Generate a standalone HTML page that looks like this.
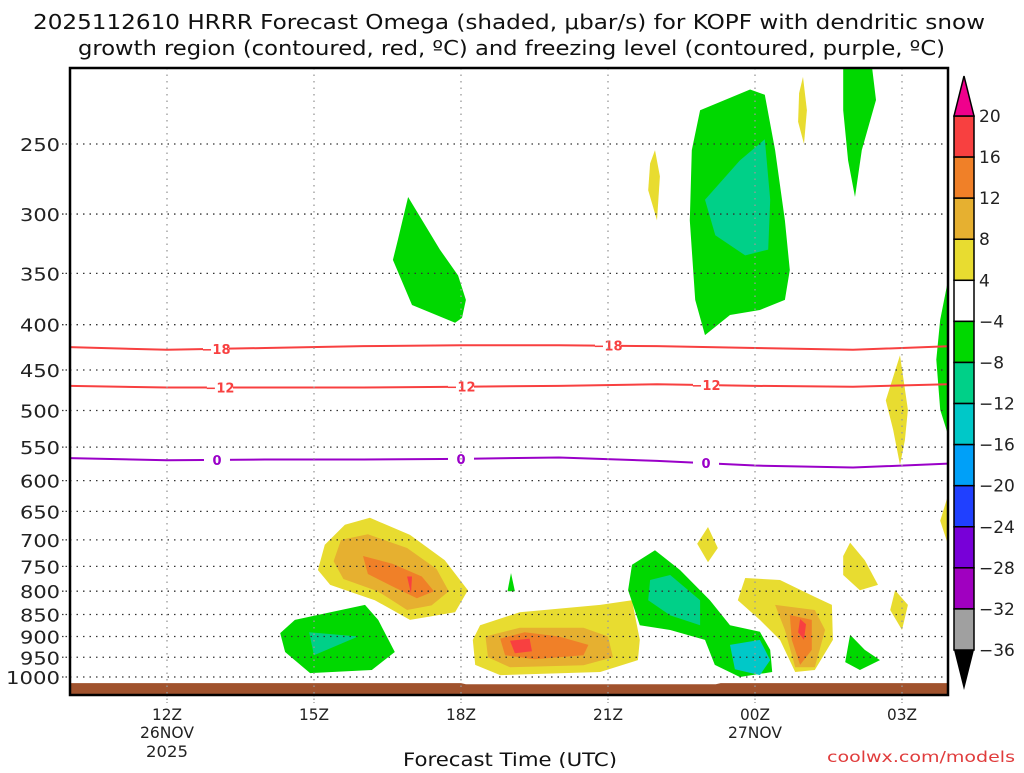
<!DOCTYPE html>
<html><head><meta charset="utf-8"><style>
body{margin:0;background:#fff;width:1024px;height:768px;overflow:hidden}
svg text{font-family:"DejaVu Sans","Liberation Sans",sans-serif}
</style></head><body>
<svg id="c" width="1024" height="768" xmlns="http://www.w3.org/2000/svg">
<text x="33" y="29" textLength="952" lengthAdjust="spacingAndGlyphs" font-size="20" fill="#111">2025112610 HRRR Forecast Omega (shaded, μbar/s) for KOPF with dendritic snow</text>
<text x="78" y="55" textLength="867" lengthAdjust="spacingAndGlyphs" font-size="20" fill="#111">growth region (contoured, red, ºC) and freezing level (contoured, purple, ºC)</text>
<text x="403" y="766" textLength="214" lengthAdjust="spacingAndGlyphs" font-size="19" fill="#111">Forecast Time (UTC)</text>
<text x="827" y="762" textLength="188" lengthAdjust="spacingAndGlyphs" font-size="15" fill="#e03c3c">coolwx.com/models</text>
<g id="plot"></g>
<g id="cbar"></g>
</svg>
<script>
const pLevels=[250,300,350,400,450,500,550,600,650,700,750,800,850,900,950,1000];
const timeTicks=[12,15,18,21,24,27];
const timeLabels=["12Z","15Z","18Z","21Z","00Z","03Z"];
const lineHours=[10,12,14,16,18,20,22,24,26,28];
const dgzMinus18=[424,427,425,423,422,422,423,425,427,423];
const dgzMinus12=[469,471,471,471,470,469,467,469,470,467];
const freezing0=[566,569,568,568,567,565,570,577,580,574];
const labMinus18=[13.0,21.0];
const labMinus12=[13.08,18.0,23.0];
const lab0=[13.02,18.0,23.0];
const cbLevels=["20","16","12","8","4","−4","−8","−12","−16","−20","−24","−28","−32","−36"];
const cbColors=["#f84040","#f08028","#e6b030","#e8dc30","#ffffff","#00d800","#00d088","#00c8c8","#00a0f8","#2040ff","#7800d8","#a000c0","#a0a0a0"];
const shades=[
["#00d800",[[16.92,287],[17.57,329],[17.94,352],[18.1,375],[18.02,393],[17.88,398],[17.0,380],[16.61,338],[16.71,321]]],
["#00d800",[[22.88,229],[23.9,217],[24.2,220],[24.41,254],[24.61,305],[24.71,347],[24.61,375],[24.1,385],[23.49,390],[22.98,411],[22.78,375],[22.67,305],[22.71,254]]],
["#00d088",[[22.98,289],[23.69,261],[24.2,247],[24.31,289],[24.27,329],[23.8,334],[23.19,317]]],
["#00d800",[[25.8,205],[26.39,205],[26.47,223],[26.18,254],[26.04,287],[25.9,261],[25.8,229]]],
["#e8dc30",[[21.96,254],[22.06,272],[22.0,305],[21.82,282],[21.86,263]]],
["#e8dc30",[[24.98,210],[25.06,229],[25.0,250],[24.88,236],[24.9,219]]],
["#00d800",[[27.94,356],[27.94,533],[27.78,499],[27.7,438],[27.78,395]]],
["#e8dc30",[[26.96,433],[27.12,499],[27.06,540],[26.96,576],[26.82,526],[26.67,487]]],
["#e8dc30",[[27.94,623],[27.94,709],[27.78,666]]],
["#e8dc30",[[15.63,673],[16.14,661],[16.96,691],[17.67,738],[18.14,798],[17.88,845],[16.96,862],[16.24,819],[15.33,787],[15.08,757],[15.22,709]]],
["#e6b030",[[15.55,700],[16.1,690],[16.9,715],[17.5,755],[17.75,800],[17.4,830],[16.9,840],[16.3,800],[15.6,775],[15.4,740]]],
["#f08028",[[16.0,730],[16.6,745],[17.2,770],[17.45,800],[17.1,815],[16.6,790],[16.1,765]]],
["#f84040",[[16.9,770],[17.0,770],[16.98,805]]],
["#e8dc30",[[18.39,874],[19.2,845],[20.84,829],[21.49,819],[21.65,908],[21.61,957],[20.84,987],[18.8,995],[18.29,969],[18.24,908]]],
["#e6b030",[[18.5,900],[19.2,880],[20.5,880],[21.0,900],[21.1,950],[20.5,970],[19.0,975],[18.55,950]]],
["#f08028",[[18.8,905],[19.3,890],[20.0,900],[20.6,920],[20.5,945],[19.5,955],[18.9,945]]],
["#f84040",[[19.0,910],[19.4,905],[19.45,935],[19.1,940]]],
["#00d800",[[14.31,892],[14.61,862],[16.04,829],[16.31,862],[16.65,937],[16.18,982],[14.92,990],[14.41,937]]],
["#00d088",[[14.9,890],[15.9,900],[15.0,945]]],
["#00d800",[[19.02,763],[19.1,800],[18.95,800]]],
["#00d800",[[21.96,719],[22.47,757],[23.08,819],[23.49,874],[24.1,889],[24.31,932],[24.35,987],[23.69,1000],[23.18,969],[22.98,908],[22.27,885],[21.65,874],[21.41,798],[21.49,747]]],
["#00d088",[[21.86,777],[22.27,767],[22.88,819],[22.88,874],[22.27,852],[21.82,819]]],
["#00c8c8",[[23.49,920],[24.1,908],[24.31,957],[24.1,995],[23.59,980]]],
["#e8dc30",[[23.04,677],[23.24,715],[23.04,742],[22.82,707]]],
["#e8dc30",[[23.8,773],[24.51,777],[25.22,812],[25.57,829],[25.59,908],[25.22,982],[24.82,987],[24.51,908],[24.1,862],[23.65,819]]],
["#e6b030",[[24.41,829],[25.22,840],[25.43,885],[25.22,975],[24.82,975],[24.61,885]]],
["#f08028",[[24.71,851],[25.16,862],[25.16,932],[24.92,969],[24.75,908]]],
["#f84040",[[24.92,860],[25.04,872],[25.0,908],[24.88,890]]],
["#e8dc30",[[25.94,705],[26.24,738],[26.51,787],[26.14,798],[25.8,767],[25.8,730]]],
["#e8dc30",[[26.86,798],[27.12,829],[27.0,885],[26.76,840]]],
["#00d800",[[25.94,896],[26.24,932],[26.55,957],[26.14,982],[25.84,962]]]
];
const terrainHours=[10,18,18.1,23.2,23.3,28];
const terrainP=[1016,1016,1019,1019,1016,1016];

const NS="http://www.w3.org/2000/svg";
const L=70,R=948,T=68,B=695;
const xs=h=>167+(h-12)*49;
const ys=p=>677-384.5*Math.log(1000/p);
function mk(tag,attrs,parent){const e=document.createElementNS(NS,tag);for(const k in attrs)e.setAttribute(k,attrs[k]);parent.appendChild(e);return e;}
const plot=document.getElementById('plot');
const cp=mk('clipPath',{id:'clp'},plot);mk('rect',{x:L,y:T,width:R-L,height:B-T},cp);
const inner=mk('g',{'clip-path':'url(#clp)'},plot);
shades.forEach((s,i)=>{
 const e=mk('polygon',{points:s[1].map(q=>xs(q[0]).toFixed(1)+','+ys(q[1]).toFixed(1)).join(' '),fill:s[0]},inner);
 
 
});
pLevels.forEach(p=>{
 const g=mk('line',{x1:L,x2:R,y1:ys(p),y2:ys(p),stroke:'#333','stroke-width':1.3,'stroke-dasharray':'1.5 5'},plot);
 
 
 const s=String(p);
 const t=mk('text',{x:62-s.length*14,y:ys(p)+7,'font-size':18,fill:'#222',textLength:s.length*14-2,lengthAdjust:'spacingAndGlyphs'},plot);t.textContent=s;
 
 
 mk('line',{x1:L-8,x2:L,y1:ys(p),y2:ys(p),stroke:'#333','stroke-width':1.3,'stroke-dasharray':'1.5 2'},plot);
});
timeTicks.forEach((h,i)=>{
 const g=mk('line',{x1:xs(h),x2:xs(h),y1:T,y2:B,stroke:'#999','stroke-width':1.3,'stroke-dasharray':'1.5 5'},plot);
 
 
 mk('line',{x1:xs(h),x2:xs(h),y1:B,y2:B+8,stroke:'#999','stroke-width':1.3,'stroke-dasharray':'1.5 2'},plot);
 const t=mk('text',{x:xs(h)-15,y:720,'font-size':16,fill:'#222',textLength:30,lengthAdjust:'spacingAndGlyphs'},plot);t.textContent=timeLabels[i];
 
 
});
[["26NOV",12,738,54],["2025",12,757,42],["27NOV",24,738,54]].forEach(d=>{
 const t=mk('text',{x:xs(d[1])-d[3]/2,y:d[2],'font-size':16,fill:'#222',textLength:d[3],lengthAdjust:'spacingAndGlyphs'},plot);t.textContent=d[0];
 
 
});
{
 let pts=terrainHours.map((h,i)=>xs(h)+','+ys(terrainP[i]));
 pts.push(xs(28)+','+B, xs(10)+','+B);
 const e=mk('polygon',{points:pts.join(' '),fill:'#a0522d'},inner);
 
 
}
function contour(vals,color,labs,txt,name){
 const pts=lineHours.map((h,i)=>xs(h)+','+ys(vals[i])).join(' ');
 const e=mk('polyline',{points:pts,fill:'none',stroke:color,'stroke-width':2},inner);
 
 
 labs.forEach(h=>{
  let k=0;while(k<lineHours.length-2&&lineHours[k+1]<h)k++;
  const f=(h-lineHours[k])/(lineHours[k+1]-lineHours[k]);
  const p=vals[k]+(vals[k+1]-vals[k])*f;
  mk('rect',{x:xs(h)-13,y:ys(p)-7,width:26,height:14,fill:'#fff'},inner);
  const t=mk('text',{x:xs(h),y:ys(p)+5,'text-anchor':'middle','font-size':13,'font-weight':'bold',fill:color},inner);t.textContent=txt;
  
  
 });
}
contour(dgzMinus18,'#f84040',labMinus18,'−18','contour-minus18');
contour(dgzMinus12,'#f84040',labMinus12,'−12','contour-minus12');
contour(freezing0,'#9a00c8',lab0,'0','freezing-level');
{const f=mk('rect',{x:L,y:T,width:R-L,height:B-T,fill:'none',stroke:'#000','stroke-width':2.5},plot);
}
const cb=document.getElementById('cbar');
const cx=954,cw=20,ctop=116,ch=(650-116)/13;
cbColors.forEach((c,i)=>{
 const r=mk('rect',{x:cx,y:ctop+i*ch,width:cw,height:ch,fill:c,stroke:'#000','stroke-width':1.5},cb);
 
 
});
{const a=mk('polygon',{points:`${cx},${ctop} ${cx+cw},${ctop} ${cx+cw/2},${ctop-40}`,fill:'#f0008c',stroke:'#000','stroke-width':1.5},cb);

const b=mk('polygon',{points:`${cx},650 ${cx+cw},650 ${cx+cw/2},690`,fill:'#000'},cb);
}
cbLevels.forEach((l,i)=>{
 const t=mk('text',{x:979,y:ctop+i*ch+6,'font-size':17,fill:'#222'},cb);t.textContent=l;
 
 
});
</script>
</body></html>
